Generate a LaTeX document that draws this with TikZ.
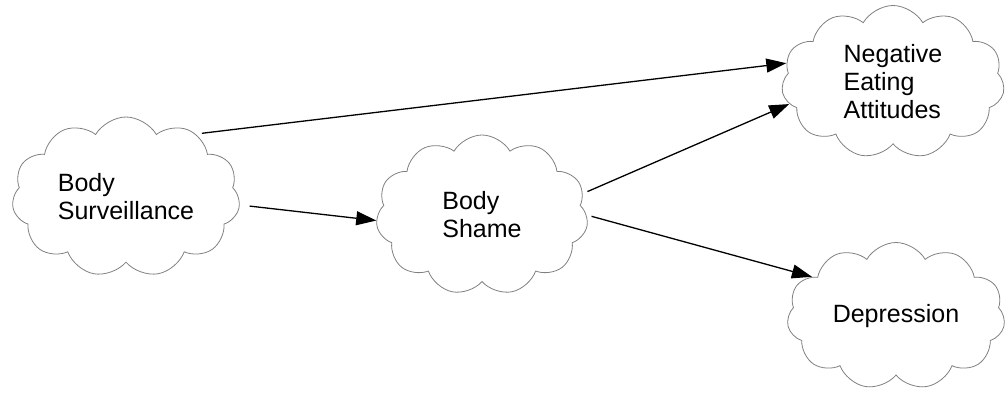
\documentclass[tikz,border=0pt]{standalone}
\usepackage{fontspec}
\setmainfont{Liberation Sans}
\usetikzlibrary{shapes.symbols,arrows.meta}

\begin{document}
\begin{tikzpicture}
			[x=1pt, y=-1pt,
			mood/.style	= {draw=black!50, line width=0.8pt, cloud, cloud puffs=11, cloud puff arc=120, cloud ignores aspect, align=left, inner sep=0pt, font=\fontsize{25}{28}\selectfont},
			link/.style	= {-{Triangle[length=20pt, width=14pt]}, line width=1.3pt}]
			
			\useasboundingbox (0,0) rectangle (1007,399);
			
			\node [mood, minimum width=228pt, minimum height=160pt]	at (126,197)	(surv)	{Body\\Surveillance};
			\node [mood, minimum width=212pt, minimum height=160pt]	at (482,215)	(shame)	{Body\\Shame};
			\node [mood, minimum width=223pt, minimum height=153pt]	at (893,82)		(neg)	{Negative\\Eating\\Attitudes};
			\node [mood, minimum width=218pt, minimum height=147pt]	at (896,316)	(dep)	{Depression};
			
			\draw [link, shorten <=6pt]			(surv.42)	-- (neg.170);
			\draw [link, shorten <=10pt]		(surv.356)	-- (shame.183);
			\draw [link, shorten <=5pt]			(shame.12)	-- (neg.192);
			\draw [link, shorten <=5pt]			(shame.0)	-- (dep.155);
			\end{tikzpicture}
\end{document}
